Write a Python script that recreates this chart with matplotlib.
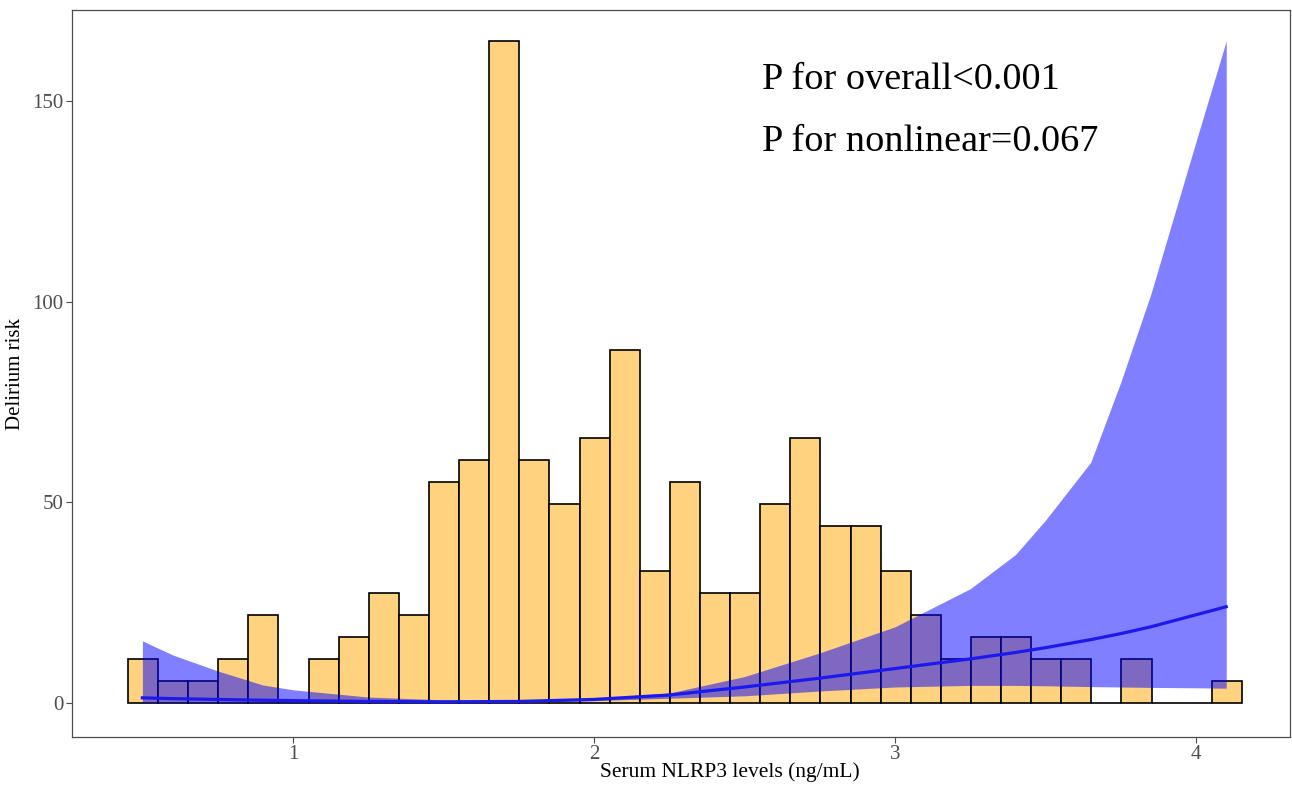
import numpy as np
import matplotlib.pyplot as plt

plt.rcParams['font.family'] = ['Liberation Serif', 'DejaVu Serif']

# histogram of NLRP3 levels (scaled to the risk axis)
bin_start = 0.452
bin_width = 0.1
bar_heights = [11, 5.5, 5.5, 11, 22, 0, 11, 16.5, 27.5, 22,
               55, 60.5, 165, 60.5, 49.5, 66, 88, 33, 55, 27.5,
               27.5, 49.5, 66, 44, 44, 33, 22, 11, 16.5, 16.5,
               11, 11, 0, 11, 0, 0, 5.5]

# spline fit and confidence band
curve_x = [0.5, 0.6, 0.75, 0.9, 1.0, 1.25, 1.5, 1.75, 2.0, 2.25, 2.5,
           2.75, 3.0, 3.25, 3.4, 3.5, 3.65, 3.75, 3.85, 4.0, 4.1]
curve_y = [1.3, 1.1, 0.9, 0.7, 0.6, 0.4, 0.3, 0.4, 0.9, 2.0, 4.0,
           6.2, 8.6, 11.0, 12.6, 13.8, 15.8, 17.3, 19.0, 22.0, 24.0]
upper_y = [15.5, 12.0, 8.0, 4.5, 3.3, 1.5, 0.8, 0.6, 1.2, 2.5, 6.6,
           12.5, 19.0, 28.5, 37.0, 45.6, 60.0, 80.0, 102.0, 140.0, 165.0]
lower_y = [0.1, 0.1, 0.1, 0.1, 0.1, 0.1, 0.1, 0.2, 0.6, 1.2, 1.8,
           3.0, 4.0, 4.4, 4.4, 4.3, 4.1, 4.0, 3.9, 3.8, 3.7]

bar_left = bin_start + bin_width * np.arange(len(bar_heights))

fig = plt.figure(figsize=(12.92, 7.85), dpi=100)
ax = fig.add_axes([0.0557, 0.0611, 0.9428, 0.9262])

ax.bar(bar_left, bar_heights, width=bin_width, align='edge',
       color='#FFD27F', edgecolor='black', linewidth=1.2, zorder=1)
ax.fill_between(curve_x, lower_y, upper_y, color='blue', alpha=0.5,
                linewidth=0, zorder=2)
ax.plot(curve_x, curve_y, color='#1a1aee', linewidth=2.3, zorder=3)

ax.text(2.558, 155.2, 'P for overall<0.001', fontsize=27.5, va='center')
ax.text(2.558, 139.8, 'P for nonlinear=0.067', fontsize=27.5, va='center')

ax.set_xlim(0.266, 4.312)
ax.set_ylim(-8.47, 172.7)
ax.set_xticks([1, 2, 3, 4])
ax.set_yticks([0, 50, 100, 150])
ax.tick_params(colors='#4d4d4d', labelsize=15, length=4, width=0.8, pad=2)
for s in ax.spines.values():
    s.set_color('#4d4d4d')
    s.set_linewidth(0.9)

ax.set_xlabel('Serum NLRP3 levels (ng/mL)', fontsize=15.5)
ax.xaxis.set_label_coords(0.54, -0.035)
ax.set_ylabel('Delirium risk', fontsize=15, labelpad=5)

fig.savefig('out.png', dpi=100)
